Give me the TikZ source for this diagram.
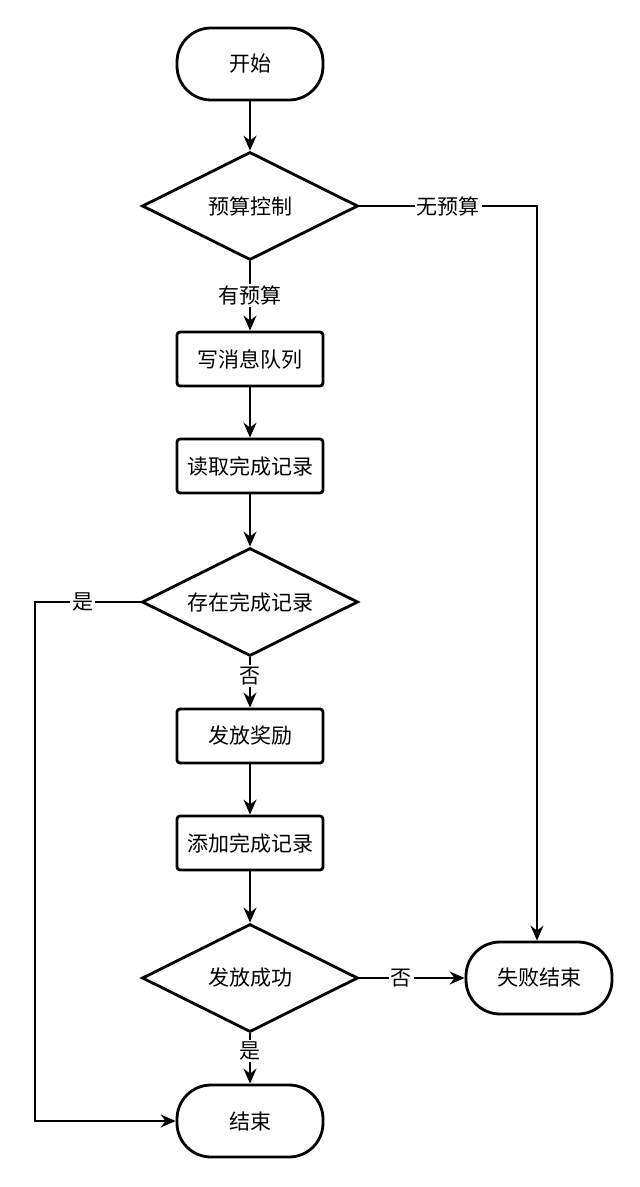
\documentclass[tikz,border=0pt]{standalone}
\usepackage{fontspec}
\newfontfamily\cjk{Noto Sans CJK SC}
\usetikzlibrary{shapes.geometric, arrows.meta}
\tikzset{
    every node/.style={font=\cjk\fontsize{10.5pt}{12pt}\selectfont},
    terminal/.style={draw, line width=1.4pt, rounded corners=17pt,
        minimum width=73pt, minimum height=36pt},
    process/.style={draw, line width=1.4pt, rounded corners=1.5pt,
        minimum width=73pt, minimum height=27pt},
    decision/.style={draw, diamond, aspect=2, line width=1.4pt, inner sep=0pt,
        minimum width=108pt, minimum height=54pt},
    flow/.style={draw, ->, >={Stealth[length=7.5pt,width=6.5pt,inset=2.5pt]},
        line width=0.9pt},
    lbl/.style={fill=white, inner sep=1pt}
}

\begin{document}
\begin{tikzpicture}[x=0.5pt, y=-0.5pt]
	\useasboundingbox (0, 0) rectangle (640, 1187);
	\node[terminal] at (250, 64) (start) {开始};
	\node[decision] at (250, 206) (d1) {预算控制};
	\node[process] at (250, 359) (q1) {写消息队列};
	\node[process] at (250, 466) (q2) {读取完成记录};
	\node[decision] at (250, 602) (d2) {存在完成记录};
	\node[process] at (250, 736) (q3) {发放奖励};
	\node[process] at (250, 843) (q4) {添加完成记录};
	\node[decision] at (250, 978) (d3) {发放成功};
	\node[terminal] at (539, 978) (fail) {失败结束};
	\node[terminal] at (250, 1121) (end) {结束};
	\coordinate (c1) at (537, 206);
	\coordinate (c2) at (35, 602);
	% main flow
	\draw[flow] (start) -- (d1);
	\draw[flow] (d1) -- node[lbl, pos=.49] {有预算} (q1);
	\draw[flow] (q1) -- (q2);
	\draw[flow] (q2) -- (d2);
	\draw[flow] (d2) -- node[lbl, pos=.37] {否} (q3);
	\draw[flow] (q3) -- (q4);
	\draw[flow] (q4) -- (d3);
	\draw[flow] (d3) -- node[lbl, pos=.35] {是} (end);
	% side branches
	\draw[flow] (d1.east) -- node[lbl, pos=.5] {无预算} (c1) -- (fail.north -| c1);
	\draw[flow] (d2.west) -- node[lbl, pos=.55] {是} (c2) |- (end.west);
	\draw[flow] (d3.east) -- node[lbl, pos=.4] {否} (fail.west);
\end{tikzpicture}
\end{document}
